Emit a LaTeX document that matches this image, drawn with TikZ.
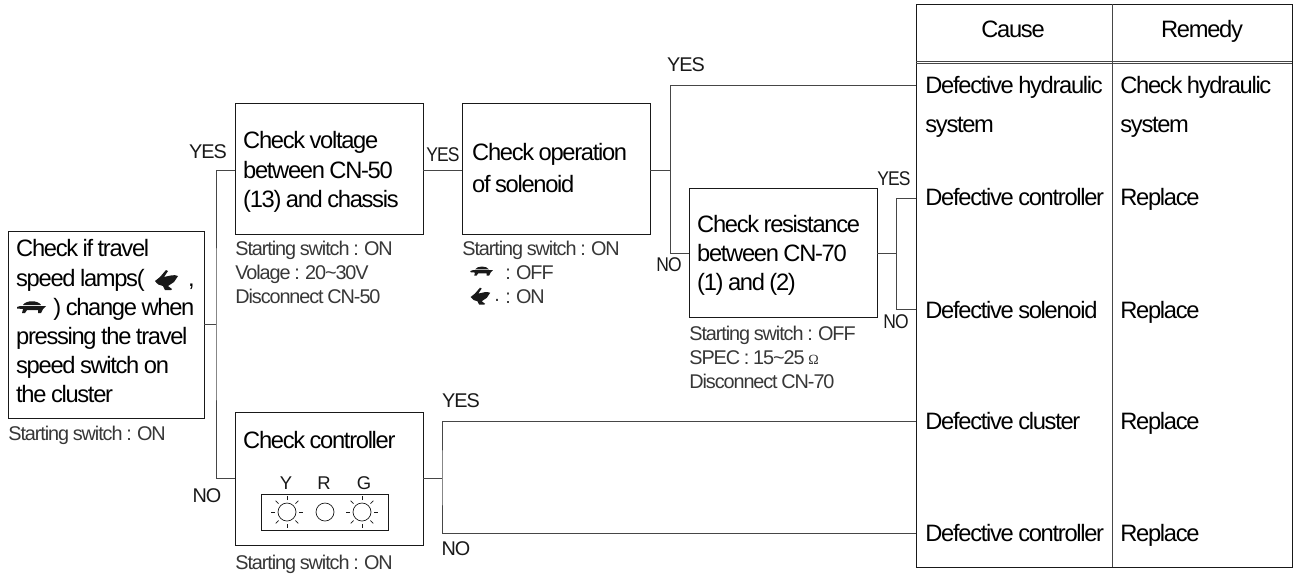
\documentclass[tikz,border=0pt]{standalone}
\usepackage{fontspec}
\setmainfont[LetterSpace=-5.5,WordSpace=0.85]{Liberation Sans}
\newfontfamily\omegafont{Liberation Serif}
\usepackage{tikz}
\usetikzlibrary{arrows,shapes,positioning}
\definecolor{lineblack}{RGB}{25,25,25}
\definecolor{wiregray}{RGB}{70,70,70}
\definecolor{notegray}{RGB}{55,55,55}
\tikzstyle{checkbox} = [rectangle, draw=lineblack, line width=0.75pt, anchor=north west, inner ysep=0pt, inner xsep=0.15cm, align=left, font=\fontsize{13.5pt}{16.6pt}\selectfont, execute at begin node={\spaceskip=0pt \xspaceskip=0pt \parindent=0pt}]
\tikzstyle{wire} = [draw=wiregray, line width=0.55pt]
\tikzstyle{note} = [anchor=north west, inner sep=0pt, align=left, text=notegray, font=\fontsize{11.3pt}{13.6pt}\selectfont]
\tikzstyle{answer} = [inner sep=0pt, font=\fontsize{11.3pt}{12pt}\selectfont, text=lineblack]
\tikzstyle{tightanswer} = [answer, xscale=0.88]
\tikzstyle{cell} = [anchor=base west, inner sep=0pt, align=left, font=\fontsize{13.5pt}{22pt}\selectfont]
\tikzstyle{lampname} = [inner sep=0pt, font=\fontsize{10.5pt}{11pt}\selectfont, text=lineblack]
\tikzset{
  turtle/.pic={
    \fill[lineblack] (-9,-2) .. controls (-6,-7) and (6,-7) .. (9,-2) -- cycle;
    \fill[lineblack] (-15,0) -- (-12,-1) -- (14,-1) -- (11,2) -- (9,6) -- (6,6) -- (6,3) -- (-5,3) -- (-7,6) -- (-10,6) -- (-9,2) -- (-15,1.5) -- cycle;
  },
  rabbit/.pic={
    \fill[lineblack] (-11,0) -- (-6,-4) -- (0,-11) -- (2,-10) -- (-2,-4)
      .. controls (3,-5) and (8,-7) .. (12,-5) -- (8,1) -- (2,5) -- (6,8) -- (5,9) -- (-1,9)
      -- (-3,5) .. controls (-6,5) and (-9,3) .. (-11,0) -- cycle;
  },
  sun/.pic={
    \draw[lineblack, line width=0.4pt] (0,0) circle (9);
    \foreach \ang in {0,45,...,315}
      \draw[lineblack, line width=0.4pt] (\ang:12) -- (\ang:16);
  }
}
\begin{document}
\begin{tikzpicture}[x=0.02cm,y=-0.02cm]
\useasboundingbox (0,0) rectangle (1300,576);

% Check boxes
\node (travel) [checkbox, minimum width=3.92cm, minimum height=3.74cm, text width=3.62cm] at (8,231) {Check if travel\\speed lamps( \hspace{1.45em} ,\\\hspace*{1.38em} ) change when\\pressing the travel\\speed switch on\\the cluster\rule[-4.5pt]{0pt}{4.5pt}};
\node (voltage) [checkbox, minimum width=3.76cm, minimum height=2.62cm, text width=3.46cm] at (235,103) {\rule{0pt}{13pt}Check voltage\\between CN-50\\(13) and chassis};
\node (solenoid) [checkbox, inner xsep=0.19cm, minimum width=3.76cm, minimum height=2.62cm, text width=3.38cm] at (462,103) {Check operation\\[1.6pt]of solenoid\rule[-1.7pt]{0pt}{1.7pt}};
\node (resistance) [checkbox, minimum width=3.76cm, minimum height=2.58cm, text width=3.46cm] at (689,188) {\rule{0pt}{12.5pt}Check resistance\\between CN-70\\(1) and (2)};
\node (controller) [checkbox, minimum width=3.76cm, minimum height=2.66cm, text width=3.46cm] at (235,412) {Check controller\rule[-44.8pt]{0pt}{44.8pt}};

% Conditions under the boxes
\node (travelnote) [note] at (8,426) {Starting switch : ON};
\node (voltagenote) [note] at (235,241) {Starting switch : ON\\Volage : 20\textasciitilde30V\\Disconnect CN-50};
\node (solenoidnote) [note] at (462,241) {Starting switch : ON\\\hspace*{0.86cm}: OFF\\\hspace*{0.86cm}: ON};
\node (resistancenote) [note] at (689,326) {Starting switch : OFF\\SPEC : 15\textasciitilde25 {\omegafont\fontsize{8pt}{8pt}\selectfont Ω}\\Disconnect CN-70};
\node (controllernote) [note] at (235,555) {Starting switch : ON};
\node (dot) [note] at (494,299) {.};

% Speed lamp symbols
\pic at (166,281) {rabbit};
\pic at (32,307) {turtle};
\pic[scale=0.78] at (482,271) {turtle};
\pic[scale=0.85] at (480,297) {rabbit};

% Lamp panel
\node (panel) [rectangle, draw=lineblack, line width=0.5pt, minimum width=2.54cm, minimum height=0.72cm, anchor=north west] at (261,494) {};
\pic at (287,512) {sun};
\node (lampr) [circle, draw=lineblack, line width=0.4pt, minimum size=0.36cm, inner sep=0pt] at (325,512) {};
\pic at (362,512) {sun};
\node (labely) [lampname] at (286,483) {Y};
\node (labelr) [lampname] at (324,483) {R};
\node (labelg) [lampname] at (364,483) {G};

% Cause and remedy table
\node (table) [rectangle, draw=lineblack, line width=0.75pt, anchor=north west, minimum width=7.52cm, minimum height=11.26cm] at (916,4) {};
\coordinate (headl) at (916,61);
\coordinate (headr) at (1292,61);
\coordinate (head2l) at (916,63.5);
\coordinate (head2r) at (1292,63.5);
\coordinate (divt) at (1112,4);
\coordinate (divb) at (1112,567);
\draw[wire] (headl) -- (headr);
\draw[wire] (head2l) -- (head2r);
\draw[wire] (divt) -- (divb);
\node (causehead) [cell, anchor=base] at (1013,37) {Cause};
\node (remedyhead) [cell, anchor=base] at (1202,37) {Remedy};
\node (cause1) [cell] at (925,132) {Defective hydraulic\\system};
\node (remedy1) [cell] at (1120,132) {Check hydraulic\\system};
\node (cause2) [cell] at (925,205) {Defective controller};
\node (remedy2) [cell] at (1120,205) {Replace};
\node (cause3) [cell] at (925,318) {Defective solenoid};
\node (remedy3) [cell] at (1120,318) {Replace};
\node (cause4) [cell] at (925,429) {Defective cluster};
\node (remedy4) [cell] at (1120,429) {Replace};
\node (cause5) [cell] at (925,541) {Defective controller};
\node (remedy5) [cell] at (1120,541) {Replace};

% Wire junctions
\coordinate (travelout) at (204,324);
\coordinate (fork1) at (216,324);
\coordinate (voltagein) at (235,170);
\coordinate (controllerin) at (235,478);
\coordinate (voltageout) at (423,170);
\coordinate (solenoidin) at (462,170);
\coordinate (solenoidout) at (650,170);
\coordinate (fork2) at (670,170);
\coordinate (resin) at (689,253);
\coordinate (resout) at (877,253);
\coordinate (fork3) at (896,253);
\coordinate (ctrlout) at (423,478);
\coordinate (fork4) at (442,478);
\coordinate (in1) at (916,85);
\coordinate (in2) at (916,198);
\coordinate (in3) at (916,309);
\coordinate (in4) at (916,421);
\coordinate (in5) at (916,533);

% Wires
\draw[wire] (travelout) -- (fork1);
\draw[wire] (voltagein) -| (fork1) |- (controllerin);
\draw[wire] (voltageout) -- (solenoidin);
\draw[wire] (solenoidout) -- (fork2);
\draw[wire] (in1) -| (fork2) |- (resin);
\draw[wire] (resout) -- (fork3);
\draw[wire] (in2) -| (fork3) |- (in3);
\draw[wire] (ctrlout) -- (fork4);
\draw[wire] (in4) -| (fork4) |- (in5);

% Answers
\node (yes1) [answer] at (208,152) {YES};
\node (no1) [answer] at (207,496) {NO};
\node (yes2) [tightanswer] at (443,155) {YES};
\node (yes3) [answer] at (686,65) {YES};
\node (no2) [tightanswer] at (669,265) {NO};
\node (yes4) [tightanswer] at (894,179) {YES};
\node (no3) [tightanswer] at (896,322) {NO};
\node (yes5) [answer] at (461,401) {YES};
\node (no4) [answer] at (456,549) {NO};
\end{tikzpicture}
\end{document}
